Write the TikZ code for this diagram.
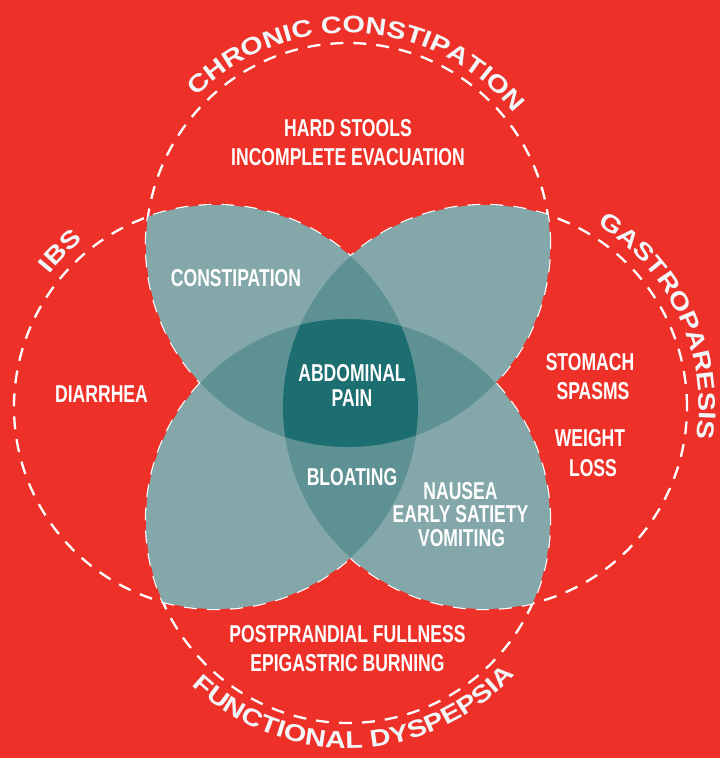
\documentclass[tikz,border=0pt]{standalone}
\usepackage{fontspec}
\setmainfont{Liberation Sans}
\newfontfamily\lblfont[FakeStretch=0.72]{Liberation Sans}
\newfontfamily\ttlfont[FakeStretch=1.2]{Liberation Sans}
\usetikzlibrary{decorations.text}
\definecolor{bgred}{HTML}{EE3128}
\definecolor{tealA}{HTML}{84A7A9}
\definecolor{tealB}{HTML}{5E9194}
\definecolor{tealC}{HTML}{1C6E70}
\definecolor{ttlwhite}{HTML}{F2F7FA}
\begin{document}
\begin{tikzpicture}[x=1pt,y=1pt,
  lbl/.style={text=white, font=\lblfont\bfseries\fontsize{24.4}{26}\selectfont, anchor=base, inner sep=0pt},
  ring/.style={draw=white, line width=2.3pt, dash pattern=on 13pt off 10pt},
  ttl/.style={decorate, decoration={text along path, text align=center, text color=ttlwhite,
     text={|\ttlfont\bfseries\fontsize{24}{24}\selectfont|#1}}}
]
\fill[bgred] (0,0) rectangle (720,758);
\useasboundingbox (0,0) rectangle (720,758);
\def\R{202}
\coordinate (N) at (348,513);
\coordinate (S) at (348,237);
\coordinate (W) at (216,351);
\coordinate (E) at (485,351);
% dashed circles
\draw[ring] (N) circle[radius=\R];
\draw[ring] (S) circle[radius=\R];
\draw[ring] (W) circle[radius=\R];
\draw[ring] (E) circle[radius=\R];
% leaves
\begin{scope}\clip (N) circle[radius=\R]; \fill[tealA] (W) circle[radius=\R]; \fill[tealA] (E) circle[radius=\R];\end{scope}
\begin{scope}\clip (S) circle[radius=\R]; \fill[tealA] (W) circle[radius=\R]; \fill[tealA] (E) circle[radius=\R];\end{scope}
\begin{scope}\clip (W) circle[radius=\R]; \fill[tealB] (E) circle[radius=\R];\end{scope}
\begin{scope}\clip (N) circle[radius=\R]; \fill[tealB] (S) circle[radius=\R];\end{scope}
\begin{scope}\clip (N) circle[radius=\R]; \clip (S) circle[radius=\R]; \clip (W) circle[radius=\R]; \fill[tealC] (E) circle[radius=\R];\end{scope}
% titles
\path[ttl={CHRONIC CONSTIPATION}] ([shift={(177:212)}]N) arc[start angle=177, end angle=-3, radius=212];
\path[ttl={IBS}] ([shift={(180:213)}]W) arc[start angle=180, end angle=90, radius=213];
\path[ttl={GASTROPARESIS}] ([shift={(70:214)}]E) arc[start angle=70, end angle=-20, radius=214];
\path[ttl={FUNCTIONAL DYSPEPSIA}] ([shift={(182:227)}]S) arc[start angle=182, end angle=362, radius=227];
% labels
\node[lbl] (hard) at (348,621) {HARD STOOLS};
\node[lbl] (incomp) at (348,592) {INCOMPLETE EVACUATION};
\node[lbl] (constip) at (236,471) {CONSTIPATION};
\node[lbl] (abdom) at (352,376) {ABDOMINAL};
\node[lbl] (pain) at (352,351) {PAIN};
\node[lbl] (diarr) at (101.5,355) {DIARRHEA};
\node[lbl] (stomach) at (590,387) {STOMACH};
\node[lbl] (spasms) at (593,358) {SPASMS};
\node[lbl] (weight) at (590,311) {WEIGHT};
\node[lbl] (loss) at (593,281) {LOSS};
\node[lbl] (bloat) at (352,272) {BLOATING};
\node[lbl] (nausea) at (460.5,258) {NAUSEA};
\node[lbl] (early) at (460.5,235) {EARLY SATIETY};
\node[lbl] (vomit) at (461.5,211) {VOMITING};
\node[lbl] (postp) at (347.5,115) {POSTPRANDIAL FULLNESS};
\node[lbl] (epig) at (347.5,86) {EPIGASTRIC BURNING};
\end{tikzpicture}
\end{document}
